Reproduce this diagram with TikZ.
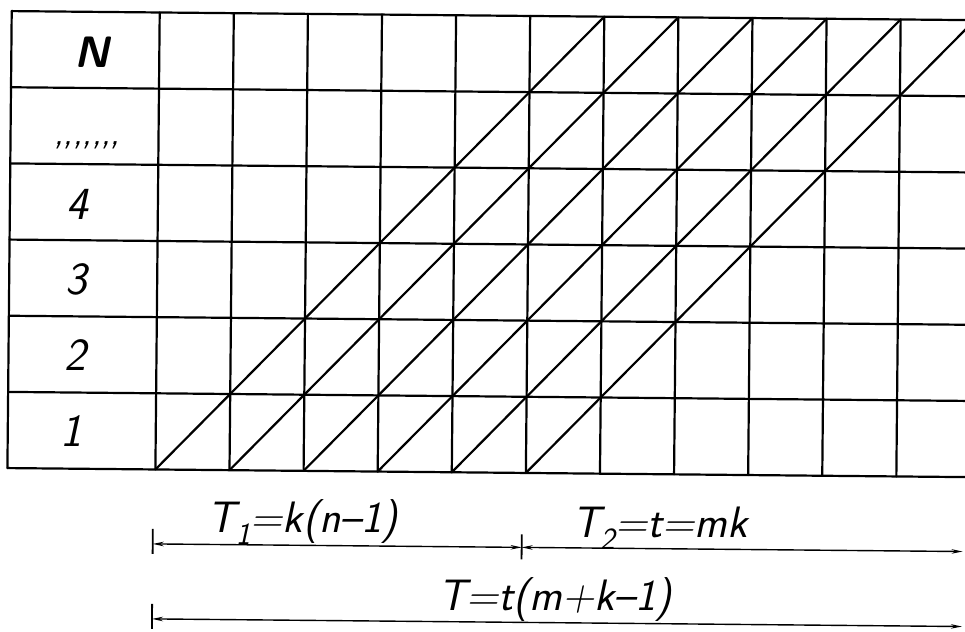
\documentclass[tikz,border=0pt]{standalone}
\usepackage{fontspec}
\usetikzlibrary{arrows.meta}
\begin{document}
\begin{tikzpicture}[x=1pt,y=-1pt,
  gridline/.style={line width=2.2pt, line cap=round},
  dimline/.style={line width=1.4pt},
  dimarrow/.style={dimline, {Stealth[length=11pt,width=4.5pt]}-{Stealth[length=11pt,width=4.5pt]}},
  tickmark/.style={line width=1.8pt},
  lbl/.style={font=\fontsize{46}{46}\selectfont\sffamily\slshape, inner sep=0pt, anchor=base},
  formula/.style={font=\fontsize{44}{44}\selectfont\sffamily\slshape, inner sep=0pt, anchor=base}]
\useasboundingbox (0,0) rectangle (965,631);
\def\gxl{9}\def\gxa{157}\def\gdx{74.1}\def\gyt{15.5}\def\gdy{76.17}\def\gyb{472.5}
\begin{scope}[rotate around={-0.54:(480,300)}]
  % horizontal rules
  \foreach \j in {0,...,6}
    \draw[gridline] (\gxl,{\gyt+\j*\gdy}) -- (975,{\gyt+\j*\gdy});
  % vertical rules
  \draw[gridline] (\gxl,\gyt) -- (\gxl,\gyb);
  \foreach \k in {0,...,10}
    \draw[gridline] ({\gxa+\k*\gdx},\gyt) -- ({\gxa+\k*\gdx},\gyb);
  % diagonals
  \foreach \k in {0,...,5}
    \draw[gridline] ({\gxa+\k*\gdx},\gyb) -- ({\gxa+(\k+6)*\gdx},\gyt);
  % row labels
  \node[lbl, font=\fontsize{44}{44}\selectfont\sffamily\bfseries\slshape] (lN) at (90,71) {N};
  \node[inner sep=0pt, anchor=base, font=\fontsize{36}{36}\selectfont\sffamily\slshape] (ldots) at (86,148)
    {,\kern0pt,\kern0pt,\kern0pt,\kern0pt,\kern0pt,\kern0pt,};
  \node[lbl] (l4) at (77,223) {4};
  \node[lbl] (l3) at (76,298) {3};
  \node[lbl] (l2) at (76,374) {2};
  \node[lbl] (l1) at (73,450) {1};
  % dimension lines
  \coordinate (d1a) at (155,547);
  \coordinate (d1m) at (524,547);
  \coordinate (d1b) at (965,547);
  \coordinate (d2a) at (155,622);
  \coordinate (d2b) at (965,622);
  \draw[tickmark] (d1a) ++(0,-15) -- ++(0,25);
  \draw[tickmark] (d1m) ++(0,-13) -- ++(0,25);
  \draw[tickmark] (d2a) ++(0,-15) -- ++(0,25);
  \draw[dimarrow] (d1a) -- (d1m);
  \draw[dimarrow] (d1m) -- (d1b);
  \draw[dimarrow] (d2a) -- (d2b);
  \node[formula] (t1) at (305,534.5) {T\textsubscript{1}=k(n–1)};
  \node[formula] (t2) at (662,535.5) {T\textsubscript{2}=t=mk};
  \node[formula] (tt) at (558,609.5) {T=t(m+k–1)};
\end{scope}
\end{tikzpicture}
\end{document}
